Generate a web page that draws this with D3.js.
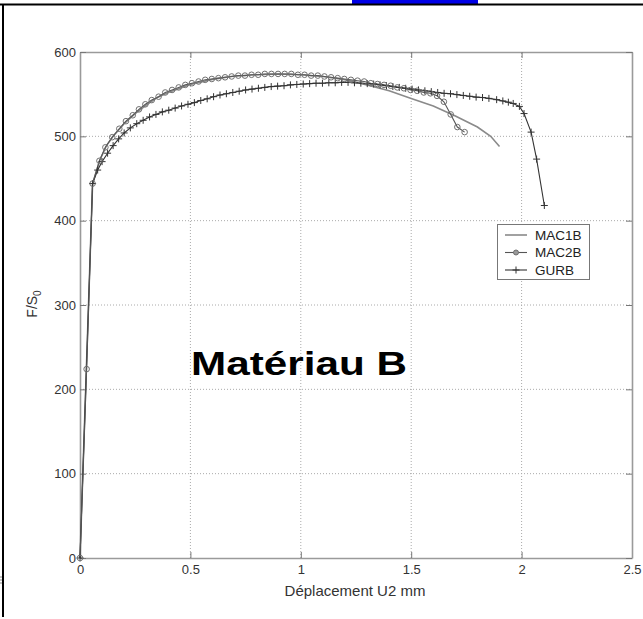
<!DOCTYPE html>
<html>
<head>
<meta charset="utf-8">
<script src="https://cdn.jsdelivr.net/npm/d3@7"></script>
<style>
  html, body { margin: 0; padding: 0; background: #fff; }
  svg { display: block; }
  text { font-family: "Liberation Sans", Arial, sans-serif; }
</style>
</head>
<body>
<svg id="chart" width="643" height="619"></svg>
<script>
// Tensile curves for material B: stress F/S0 against displacement U2 (mm)
const seriesNames = ["MAC1B", "MAC2B", "GURB"];

const mac1bU = [0, 0.057, 0.09, 0.12, 0.15, 0.2, 0.25, 0.3, 0.35, 0.4, 0.5, 0.6, 0.7, 0.8, 0.9, 1.0, 1.1, 1.2, 1.3, 1.4, 1.5, 1.6, 1.7, 1.8, 1.86, 1.9];
const mac1bF = [0, 444, 472, 489, 500, 515, 527, 537, 546, 552, 561.5, 567.5, 571.5, 573, 574, 573, 571, 567, 561, 554, 545, 536, 524, 511, 500, 488];

const mac2bU = [0, 0.03, 0.057, 0.088, 0.115, 0.146, 0.178, 0.208, 0.239, 0.267, 0.296, 0.325, 0.356, 0.386, 0.417, 0.447, 0.477, 0.507, 0.537, 0.567, 0.597, 0.627, 0.657, 0.687, 0.717, 0.747, 0.777, 0.807, 0.837, 0.867, 0.897, 0.927, 0.957, 0.987, 1.017, 1.047, 1.077, 1.107, 1.137, 1.167, 1.197, 1.227, 1.257, 1.287, 1.317, 1.347, 1.377, 1.407, 1.437, 1.467, 1.497, 1.527, 1.557, 1.587, 1.617, 1.648, 1.679, 1.709, 1.742];
const mac2bF = [0, 224, 444, 471, 487, 499, 509, 518, 525, 532, 538, 543, 547, 552, 555, 558, 561, 563, 565, 567, 568, 569, 570, 571, 572, 572, 573, 573, 574, 574, 574, 574, 574, 573, 573, 572, 572, 571, 570, 569, 568, 567, 566, 565, 563, 562, 561, 560, 558, 557, 555, 554, 552, 551, 548, 541, 526, 511, 505];

const gurbU = [0, 0.057, 0.08, 0.1, 0.125, 0.15, 0.175, 0.2, 0.228, 0.257, 0.286, 0.315, 0.344, 0.373, 0.402, 0.431, 0.46, 0.489, 0.518, 0.547, 0.576, 0.605, 0.634, 0.663, 0.692, 0.721, 0.75, 0.779, 0.808, 0.837, 0.866, 0.895, 0.924, 0.953, 0.982, 1.011, 1.04, 1.069, 1.098, 1.127, 1.156, 1.185, 1.214, 1.243, 1.272, 1.301, 1.33, 1.359, 1.388, 1.417, 1.446, 1.475, 1.504, 1.533, 1.562, 1.591, 1.62, 1.649, 1.678, 1.707, 1.736, 1.765, 1.794, 1.823, 1.852, 1.887, 1.915, 1.94, 1.962, 1.99, 2.011, 2.043, 2.068, 2.103];
const gurbF = [0, 444, 460, 470, 480, 489, 497, 504, 510, 515, 519, 523, 526, 529, 531, 533.5, 536, 538, 540, 542.5, 544.5, 547, 549, 550.5, 552, 553.5, 555, 556, 557, 558, 559, 559.5, 560, 561, 561.5, 562, 562.5, 563, 563, 563.5, 563.5, 564, 564, 563.5, 563, 562.5, 562, 561, 560, 559, 558, 557, 556, 555, 554, 553, 552, 551, 550.5, 549.5, 548.5, 547.5, 546.5, 546, 545, 543.5, 542, 540.5, 539, 535.5, 527, 505, 473, 418];

const xTicks = [0, 0.5, 1, 1.5, 2, 2.5];
const xTickLabels = ["0", "0.5", "1", "1.5", "2", "2.5"];
const yTicks = [0, 100, 200, 300, 400, 500, 600];
const yTickLabels = ["0", "100", "200", "300", "400", "500", "600"];

const xTitle = "Déplacement U2 mm";
const chartNote = "Matériau B";

const svg = d3.select("#chart");

// page frame and the blue tab above it
svg.append("rect").attr("x", 352).attr("y", 0).attr("width", 126).attr("height", 4).attr("fill", "#0000e6");
svg.append("line").attr("x1", 0).attr("x2", 643).attr("y1", 4.5).attr("y2", 4.5).attr("stroke", "#000").attr("stroke-width", 2);
svg.append("line").attr("x1", 3).attr("x2", 3).attr("y1", 4).attr("y2", 617).attr("stroke", "#000").attr("stroke-width", 2);
[577, 580, 583].forEach(yy => svg.append("line").attr("x1", 0).attr("x2", 2).attr("y1", yy).attr("y2", yy).attr("stroke", "#888").attr("stroke-width", 1));

const x = d3.scaleLinear().domain([0, 2.5]).range([80, 632]);
const y = d3.scaleLinear().domain([0, 600]).range([558, 52]);

// dotted grid
const grid = svg.append("g");
grid.selectAll("line.gx").data(xTicks.slice(1, -1)).join("line")
  .attr("x1", d => x(d)).attr("x2", d => x(d)).attr("y1", y(0)).attr("y2", y(600))
  .attr("stroke", "#aaa").attr("stroke-width", 1).attr("stroke-dasharray", "1,2");
grid.selectAll("line.gy").data(yTicks.slice(1, -1)).join("line")
  .attr("x1", x(0)).attr("x2", x(2.5)).attr("y1", d => y(d)).attr("y2", d => y(d))
  .attr("stroke", "#aaa").attr("stroke-width", 1).attr("stroke-dasharray", "1,2");

function styleAxis(g) {
  g.select(".domain").attr("stroke", "#9a9a9a").attr("stroke-width", 1.6);
  g.selectAll(".tick line").attr("stroke", "#777").attr("stroke-width", 1);
  g.selectAll(".tick text").attr("fill", "#333").style("font-size", "13px")
    .style("font-family", "'Liberation Sans', Arial, sans-serif");
}

svg.append("g").attr("transform", `translate(0,${y(0)})`)
  .call(d3.axisBottom(x).tickValues(xTicks).tickFormat((d, i) => xTickLabels[i]).tickSize(-6).tickSizeOuter(0).tickPadding(7))
  .call(styleAxis);
svg.append("g").attr("transform", `translate(0,${y(600)})`)
  .call(d3.axisTop(x).tickValues(xTicks).tickFormat("").tickSize(-6).tickSizeOuter(0))
  .call(styleAxis);
svg.append("g").attr("transform", `translate(${x(0)},0)`)
  .call(d3.axisLeft(y).tickValues(yTicks).tickFormat((d, i) => yTickLabels[i]).tickSize(-6).tickSizeOuter(0).tickPadding(4))
  .call(styleAxis);
svg.append("g").attr("transform", `translate(${x(2.5)},0)`)
  .call(d3.axisRight(y).tickValues(yTicks).tickFormat("").tickSize(-6).tickSizeOuter(0))
  .call(styleAxis);

// axis titles
svg.append("text").attr("x", 355).attr("y", 596).attr("text-anchor", "middle")
  .attr("fill", "#333").style("font-size", "15px").text(xTitle);
const yt = svg.append("text").attr("transform", "translate(37,304) rotate(-90)")
  .attr("text-anchor", "middle").attr("fill", "#333").style("font-size", "14px");
yt.append("tspan").text("F/S");
yt.append("tspan").attr("dy", 4).style("font-size", "10px").text("0");

// curves
const line = d3.line().x(d => x(d[0])).y(d => y(d[1]));
const mac1b = mac1bU.map((u, i) => [u, mac1bF[i]]);
const mac2b = mac2bU.map((u, i) => [u, mac2bF[i]]);
const gurb = gurbU.map((u, i) => [u, gurbF[i]]);

svg.append("path").datum(mac1b).attr("d", line).attr("fill", "none").attr("stroke", "#8a8a8a").attr("stroke-width", 1.6);
svg.append("path").datum(gurb).attr("d", line).attr("fill", "none").attr("stroke", "#333").attr("stroke-width", 1.1);
svg.append("path").datum(mac2b).attr("d", line).attr("fill", "none").attr("stroke", "#555").attr("stroke-width", 1.1);

function plus(g, cx, cy, s) {
  g.append("path").attr("d", `M${cx - s},${cy}H${cx + s}M${cx},${cy - s}V${cy + s}`)
    .attr("stroke", "#333").attr("stroke-width", 1).attr("fill", "none");
}
const gm = svg.append("g");
gurb.forEach(d => plus(gm, x(d[0]), y(d[1]), 3.5));
svg.append("g").selectAll("circle").data(mac2b).join("circle")
  .attr("cx", d => x(d[0])).attr("cy", d => y(d[1])).attr("r", 2.8)
  .attr("fill", "none").attr("stroke", "#707070").attr("stroke-width", 1);

// legend
const lg = svg.append("g");
lg.append("rect").attr("x", 497.5).attr("y", 224.5).attr("width", 92).attr("height", 55)
  .attr("fill", "#fff").attr("stroke", "#777").attr("stroke-width", 1);
const rows = [235, 252.5, 270];
seriesNames.forEach((name, i) => {
  const ry = rows[i];
  lg.append("line").attr("x1", 505).attr("x2", 527).attr("y1", ry).attr("y2", ry)
    .attr("stroke", i === 0 ? "#8a8a8a" : (i === 1 ? "#555" : "#333")).attr("stroke-width", i === 0 ? 1.6 : 1.1);
  if (i === 1) lg.append("circle").attr("cx", 516).attr("cy", ry).attr("r", 2.5).attr("fill", "#999").attr("stroke", "#707070");
  if (i === 2) plus(lg, 516, ry, 3.5);
  lg.append("text").attr("x", 535).attr("y", ry + 4.8).attr("fill", "#222").style("font-size", "13.5px").text(name);
});

// annotation
svg.append("text").attr("x", 299).attr("y", 375).attr("text-anchor", "middle")
  .attr("fill", "#000").style("font-size", "33px").style("font-weight", "bold")
  .attr("transform", "translate(299,0) scale(1.28,1) translate(-299,0)")
  .text(chartNote);
</script>
</body>
</html>
